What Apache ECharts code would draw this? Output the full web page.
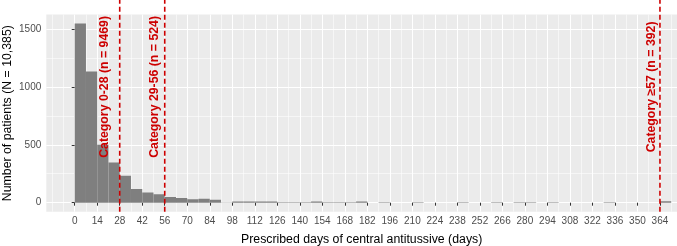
<!DOCTYPE html>
<html><head><meta charset="utf-8">
<script src="https://cdn.jsdelivr.net/npm/echarts@6/dist/echarts.min.js"></script>
<style>html,body{margin:0;padding:0;background:#fff}#c{width:677px;height:246px}</style>
</head><body><div id="c"></div>
<script>
// ---- data ----
const binWidth = 7;
const binStarts = [0,7,14,21,28,35,42,49,56,63,70,77,84,91,98,105,112,119,126,133,140,147,154,161,168,175,182,189,196,203,210,217,224,231,238,245,252,259,266,273,280,287,294,301,308,315,322,329,336,343,350,357,364];
const counts    = [1547,1132,501,348,233,118,89,72,50,40,29,35,26,2,11,11,11,11,3,3,3,11,3,3,3,11,0,3,0,0,3,0,0,0,3,0,0,3,0,3,3,0,3,0,0,0,0,3,0,0,0,0,12];
const xTicks = [0,14,28,42,56,70,84,98,112,126,140,154,168,182,196,210,224,238,252,266,280,294,308,322,336,350,364];
const xMinorTicks = [-14,-7,7,21,35,49,63,77,91,105,119,133,147,161,175,189,203,217,231,245,259,273,287,301,315,329,343,357,371];
const yTicks = [0,500,1000,1500];
const yMinorTicks = [250,750,1250];
const cutoffs = [28,56,364];
const cutoffLabels = ['Category 0-28 (n = 9469)','Category 29-56 (n = 524)','Category \u226557 (n = 392)'];
const labelX = [18.8,49.9,358.8];
const labelY = 1000;

// ---- chart ----
const FONT = '"Liberation Sans", Arial, sans-serif';
const RED = '#CD0000';
const X_MIN = -17.66, X_MAX = 374.6, Y_MIN = -77.35, Y_MAX = 1624.35;

const chart = echarts.init(document.getElementById('c'), null, {renderer:'canvas'});
const barData = binStarts.map((s,i)=>[s, counts[i]]);
const vData = cutoffs.map((c,i)=>[c, labelX[i], labelY, i]);
const plain = v => String(v);

chart.setOption({
  animation:false,
  backgroundColor:'#ffffff',
  textStyle:{fontFamily:FONT},
  grid:{left:46.3,right:0,top:14.6,bottom:34.35,show:true,backgroundColor:'#EBEBEB',borderWidth:0,containLabel:false,outerBoundsMode:'none'},
  xAxis:[{
    type:'value',min:X_MIN,max:X_MAX,
    axisLine:{show:false},
    axisTick:{show:true,customValues:xTicks,length:3,lineStyle:{color:'#333333',width:1}},
    axisLabel:{show:true,customValues:xTicks,formatter:plain,color:'#4D4D4D',fontSize:10,margin:5,fontFamily:FONT},
    splitLine:{show:true,lineStyle:{color:'#FFFFFF',width:1.1}},
    name:'Prescribed days of central antitussive (days)',nameLocation:'middle',nameGap:21.5,nameMoveOverlap:false,
    nameTextStyle:{color:'#000000',fontSize:12.3,fontFamily:FONT}
  },{
    type:'value',min:X_MIN,max:X_MAX,position:'bottom',
    axisLine:{show:false},
    axisTick:{show:false,customValues:xMinorTicks},
    axisLabel:{show:false,customValues:xMinorTicks},
    splitLine:{show:true,lineStyle:{color:'#FFFFFF',width:0.55}}
  }],
  yAxis:[{
    type:'value',min:Y_MIN,max:Y_MAX,
    axisLine:{show:false},
    axisTick:{show:true,customValues:yTicks,length:3,lineStyle:{color:'#333333',width:1}},
    axisLabel:{show:true,customValues:yTicks,formatter:plain,color:'#4D4D4D',fontSize:10,margin:5,fontFamily:FONT},
    splitLine:{show:true,lineStyle:{color:'#FFFFFF',width:1.1}},
    name:'Number of patients (N = 10,385)',nameLocation:'middle',nameGap:33,nameRotate:90,nameMoveOverlap:false,
    nameTextStyle:{color:'#000000',fontSize:12.3,fontFamily:FONT}
  },{
    type:'value',min:Y_MIN,max:Y_MAX,position:'left',
    axisLine:{show:false},
    axisTick:{show:false,customValues:yMinorTicks},
    axisLabel:{show:false,customValues:yMinorTicks},
    splitLine:{show:true,lineStyle:{color:'#FFFFFF',width:0.55}}
  }],
  series:[{
    type:'custom',xAxisIndex:0,yAxisIndex:0,data:barData,clip:true,
    renderItem:function(params,api){
      const x0=api.value(0), y=api.value(1);
      if(!y) return null;
      const p0=api.coord([x0,y]), p1=api.coord([x0+binWidth,0]);
      return {type:'rect',shape:{x:p0[0],y:p0[1],width:p1[0]-p0[0],height:p1[1]-p0[1]},style:{fill:'#7F7F7F'}};
    }
  },{
    type:'custom',xAxisIndex:0,yAxisIndex:0,data:vData,clip:false,z:5,
    renderItem:function(params,api){
      const x=api.value(0), lx=api.value(1), ly=api.value(2), idx=api.value(3);
      const pb=api.coord([x,Y_MIN]);
      const pl=api.coord([lx,ly]);
      return {type:'group',children:[
        {type:'line',shape:{x1:pb[0],y1:pb[1],x2:pb[0],y2:0},style:{stroke:RED,lineWidth:1.6,lineDash:[5,3]}},
        {type:'text',x:pl[0],y:pl[1],rotation:Math.PI/2,
          style:{text:cutoffLabels[idx],fill:RED,font:'bold 12.3px '+FONT,align:'center',verticalAlign:'middle'}}
      ]};
    }
  }]
});
</script>
</body></html>
